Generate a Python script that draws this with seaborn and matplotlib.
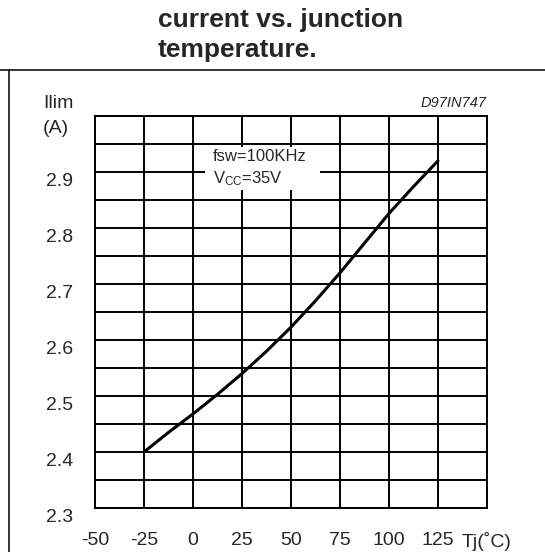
import matplotlib
matplotlib.use("Agg")
import matplotlib.pyplot as plt
from matplotlib.transforms import ScaledTranslation
from matplotlib.lines import Line2D
from matplotlib.patches import Rectangle
import seaborn as sns
import pandas as pd

# ---- data ----
tj = [-25, -12.5, 0, 12.5, 25, 37.5, 50, 62.5, 75, 87.5, 100, 112.5, 125]
ilim = [2.400, 2.435, 2.468, 2.503, 2.540, 2.580, 2.623, 2.670, 2.720, 2.773, 2.826, 2.874, 2.920]
x_ticks = [-50, -25, 0, 25, 50, 75, 100, 125, 150]
x_labels = ["-50", "-25", "0", "25", "50", "75", "100", "125", "Tj(˚C)"]
y_ticks = [2.3, 2.4, 2.5, 2.6, 2.7, 2.8, 2.9]
y_labels = ["2.3", "2.4", "2.5", "2.6", "2.7", "2.8", "2.9"]
title_lines = ["current vs. junction", "temperature."]
cond_line1 = "fsw=100KHz"
cond_line2 = r"V$_{\mathregular{CC}}$=35V"

sns.set_theme(style="white")
plt.rcParams["font.family"] = ["Liberation Sans", "DejaVu Sans"]
plt.rcParams["mathtext.fontset"] = "custom"
plt.rcParams["mathtext.rm"] = "Liberation Sans"
plt.rcParams["mathtext.it"] = "Liberation Sans:italic"

fig = plt.figure(figsize=(5.45, 5.52), dpi=100)
fig.patch.set_facecolor("white")
ax = fig.add_axes([95 / 545, 44 / 552, 392 / 545, 392 / 552])
ax.set_facecolor("white")

df = pd.DataFrame({"Tj": tj, "Ilim": ilim})
sns.lineplot(data=df, x="Tj", y="Ilim", ax=ax, color="black", linewidth=2.2, zorder=5)

ax.set_xlim(-50, 150)
ax.set_ylim(2.3, 3.0)
ax.set_xticks(x_ticks)
ax.set_xticklabels(x_labels, fontsize=14)
ax.set_yticks(y_ticks)
ax.set_yticklabels(y_labels, fontsize=14)
ax.set_yticks([2.35, 2.45, 2.55, 2.65, 2.75, 2.85, 2.95, 3.0], minor=True)
ax.set_xlabel("")
ax.set_ylabel("")
ax.tick_params(axis="both", which="both", length=0)
ax.tick_params(axis="x", pad=17)
ax.tick_params(axis="y", pad=16)
for lab in ax.get_yticklabels():
    lab.set_transform(lab.get_transform() + ScaledTranslation(0, -7 / 100, fig.dpi_scale_trans))

ax.grid(True, which="both", color="black", linewidth=1.4)
ax.set_axisbelow(True)
for s in ax.spines.values():
    s.set_color("black")
    s.set_linewidth(1.4)

# condition box
ax.add_patch(Rectangle((6.1, 2.868), 58.7, 0.077, facecolor="white", edgecolor="none", zorder=2))
ax.text(10.2, 2.927, cond_line1, fontsize=12, va="center", ha="left", zorder=3)
ax.text(10.2, 2.889, cond_line2, fontsize=12, va="center", ha="left", zorder=3)

# axis caption and code
fig.text(43 / 545, 1 - 108 / 552, "Ilim", fontsize=14, va="baseline", ha="left")
fig.text(43 / 545, 1 - 133 / 552, "(A)", fontsize=14, va="baseline", ha="left")
fig.text(487 / 545, 1 - 107 / 552, "D97IN747", fontsize=10.5, style="italic", va="baseline", ha="right")

# title
fig.text(158 / 545, 1 - 27 / 552, title_lines[0], fontsize=19, fontweight="bold", va="baseline", ha="left")
fig.text(158 / 545, 1 - 57 / 552, title_lines[1], fontsize=19, fontweight="bold", va="baseline", ha="left")

# outer frame lines
fig.add_artist(Line2D([0, 1], [1 - 70 / 552, 1 - 70 / 552], color="black", linewidth=1.1, transform=fig.transFigure))
fig.add_artist(Line2D([9 / 545, 9 / 545], [0, 1 - 70 / 552], color="black", linewidth=1.1, transform=fig.transFigure))

fig.savefig("out.png", dpi=100, facecolor="white")
